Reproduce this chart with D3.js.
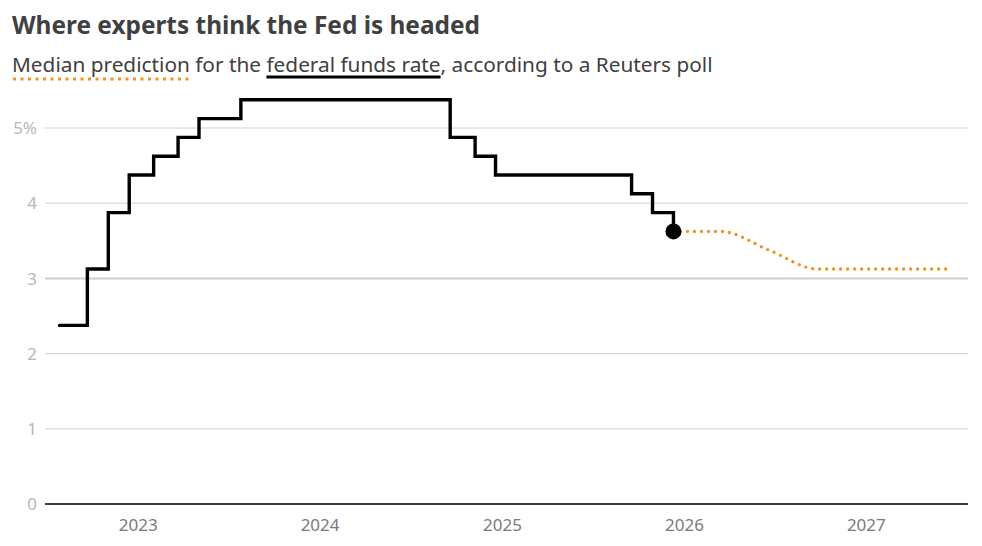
<!DOCTYPE html>
<html>
<head>
<meta charset="utf-8">
<script src="https://cdn.jsdelivr.net/npm/d3@7"></script>
<style>
  body { margin: 0; background: #fff; }
  text { font-family: "Noto Sans", sans-serif; }
</style>
</head>
<body>
<div id="chart"></div>
<script>
// Fed funds rate (midpoint of target range), step changes
const rateDates = ["2022-07-27", "2022-09-21", "2022-11-02", "2022-12-14", "2023-02-01", "2023-03-22",
  "2023-05-03", "2023-07-26", "2024-09-18", "2024-11-07", "2024-12-18", "2025-09-17", "2025-10-29", "2025-12-10"];
const rateValues = [2.375, 3.125, 3.875, 4.375, 4.625, 4.875, 5.125, 5.375, 4.875, 4.625, 4.375, 4.125, 3.875, 3.625];

// Reuters poll median forecast
const pollDates = ["2025-12-10", "2026-03-15", "2026-06-20", "2026-09-25", "2026-12-31", "2027-03-31", "2027-06-15"];
const pollValues = [3.625, 3.625, 3.375, 3.125, 3.125, 3.125, 3.125];

const yTicks = [0, 1, 2, 3, 4, 5];
const xTickYears = [2023, 2024, 2025, 2026, 2027];

const width = 982, height = 546;
const parse = d3.timeParse("%Y-%m-%d");

const svg = d3.select("#chart").append("svg")
  .attr("width", width)
  .attr("height", height);

const x = d3.scaleTime()
  .domain([parse("2022-06-28"), parse("2027-07-24")])
  .range([45, 968]);
const y = d3.scaleLinear().domain([0, 5]).range([504, 128]);

// grid
svg.append("g").selectAll("line")
  .data(yTicks.filter(d => d > 0))
  .join("line")
  .attr("x1", 45).attr("x2", 968)
  .attr("y1", d => y(d)).attr("y2", d => y(d))
  .attr("stroke", "#cfcfcf")
  .attr("stroke-width", d => d === 3 ? 2 : 1);

svg.append("g").selectAll("text")
  .data(yTicks)
  .join("text")
  .attr("x", 37)
  .attr("y", d => y(d))
  .attr("dy", "0.36em")
  .attr("text-anchor", "end")
  .attr("fill", "#bdb6b1")
  .style("font-size", "17px")
  .text(d => d === 5 ? "5%" : d);

// baseline
svg.append("line")
  .attr("x1", 45).attr("x2", 968)
  .attr("y1", y(0)).attr("y2", y(0))
  .attr("stroke", "#3a3a3a")
  .attr("stroke-width", 2);

svg.append("g").selectAll("text")
  .data(xTickYears)
  .join("text")
  .attr("x", d => x(new Date(d, 0, 1)))
  .attr("y", 531)
  .attr("text-anchor", "middle")
  .attr("fill", "#7a7a7a")
  .style("font-size", "17px")
  .text(d => d);

// forecast
const pollData = pollDates.map((d, i) => ({ date: parse(d), value: pollValues[i] }));
svg.append("path")
  .datum(pollData)
  .attr("fill", "none")
  .attr("stroke", "#f5901e")
  .attr("stroke-width", 3.4)
  .attr("stroke-linecap", "round")
  .attr("stroke-dasharray", "0,7")
  .attr("d", d3.line().curve(d3.curveMonotoneX).x(d => x(d.date)).y(d => y(d.value)));

// actual rate
const rateData = rateDates.map((d, i) => ({ date: parse(d), value: rateValues[i] }));
svg.append("path")
  .datum(rateData)
  .attr("fill", "none")
  .attr("stroke", "#000")
  .attr("stroke-width", 3.4)
  .attr("stroke-linecap", "round")
  .attr("d", d3.line().curve(d3.curveStepAfter).x(d => x(d.date)).y(d => y(d.value)));

const last = rateData[rateData.length - 1];
svg.append("circle")
  .attr("cx", x(last.date))
  .attr("cy", y(last.value))
  .attr("r", 8)
  .attr("fill", "#000");

// title
svg.append("text")
  .attr("x", 12).attr("y", 34)
  .attr("fill", "#404040")
  .style("font-size", "24.4px")
  .style("font-weight", "bold")
  .text("Where experts think the Fed is headed");

// subtitle with keyed underlines
const parts = [
  { t: "Median prediction", key: "poll" },
  { t: " for the " },
  { t: "federal funds rate", key: "rate" },
  { t: ", according to a Reuters poll" }
];
let cx = 12;
parts.forEach(p => {
  const t = svg.append("text")
    .attr("x", cx).attr("y", 72)
    .attr("fill", "#404040")
    .style("font-size", "20.8px")
    .style("white-space", "pre")
    .attr("xml:space", "preserve")
    .text(p.t);
  const w = t.node().getComputedTextLength();
  if (p.key === "poll") {
    svg.append("line")
      .attr("x1", cx + 1).attr("x2", cx + w)
      .attr("y1", 79).attr("y2", 79)
      .attr("stroke", "#f5901e")
      .attr("stroke-width", 3)
      .attr("stroke-dasharray", "3,4.5");
  } else if (p.key === "rate") {
    svg.append("line")
      .attr("x1", cx).attr("x2", cx + w)
      .attr("y1", 77).attr("y2", 77)
      .attr("stroke", "#000")
      .attr("stroke-width", 3);
  }
  cx += w;
});
</script>
</body>
</html>
